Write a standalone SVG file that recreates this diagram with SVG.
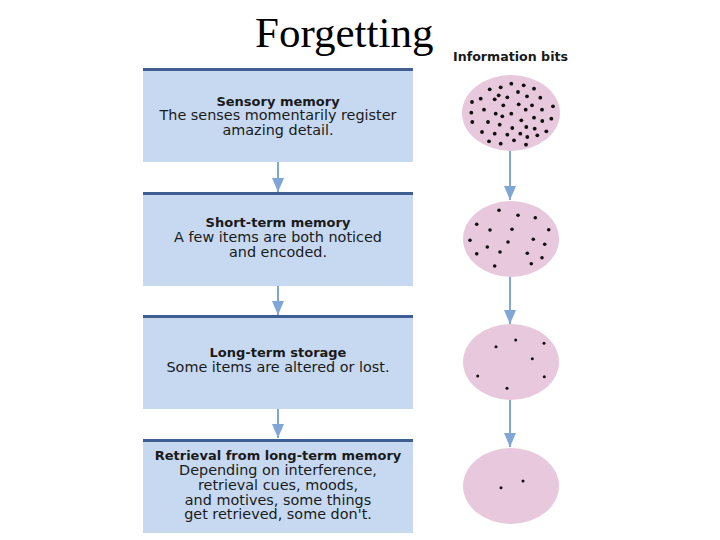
<svg xmlns="http://www.w3.org/2000/svg" width="720" height="540" viewBox="0 0 720 540">
<style>
.box{fill:#c6d9f1}
.bar{stroke:#3f5f92;stroke-width:3}
.t{font-family:"DejaVu Sans",sans-serif;font-size:14.4px;fill:#1a1a1a;text-anchor:middle}
.b{font-weight:bold;font-size:13px}
.ell{fill:#e7c8dc}
.conn{stroke:#7fa6d5;stroke-width:2;fill:none}
.dot{fill:#111}
</style>
<defs>
<marker id="ah" viewBox="0 0 14 12" refX="14" refY="6" markerWidth="14" markerHeight="12" markerUnits="userSpaceOnUse" orient="auto">
<path d="M0,0 L14,6 L0,12 Z" fill="#7fa6d5"/>
</marker>
</defs>
<rect width="720" height="540" fill="#ffffff"/>
<text x="255" y="47" font-family="'Liberation Serif',serif" font-size="43" fill="#000">Forgetting</text>
<text x="453" y="61" font-family="'DejaVu Sans',sans-serif" font-size="12" font-weight="600" fill="#1a1a1a" textLength="115" lengthAdjust="spacingAndGlyphs">Information bits</text>

<g id="n-sensory">
<rect class="box" x="143" y="70" width="270" height="92"/>
<line class="bar" x1="143" y1="69.5" x2="413" y2="69.5"/>
<text class="t b" x="278" y="105.5">Sensory memory</text>
<text class="t" x="278" y="120">The senses momentarily register</text>
<text class="t" x="278" y="134.5">amazing detail.</text>
</g>
<g id="n-short">
<rect class="box" x="143" y="194" width="270" height="92"/>
<line class="bar" x1="143" y1="193.5" x2="413" y2="193.5"/>
<text class="t b" x="278" y="227">Short-term memory</text>
<text class="t" x="278" y="242">A few items are both noticed</text>
<text class="t" x="278" y="257">and encoded.</text>
</g>
<g id="n-long">
<rect class="box" x="143" y="317" width="270" height="92"/>
<line class="bar" x1="143" y1="316.5" x2="413" y2="316.5"/>
<text class="t b" x="278" y="357">Long-term storage</text>
<text class="t" x="278" y="371.5">Some items are altered or lost.</text>
</g>
<g id="n-retrieval">
<rect class="box" x="143" y="441" width="270" height="92"/>
<line class="bar" x1="143" y1="440.5" x2="413" y2="440.5"/>
<text class="t b" x="278" y="460">Retrieval from long-term memory</text>
<text class="t" x="278" y="475">Depending on interference,</text>
<text class="t" x="278" y="490">retrieval cues, moods,</text>
<text class="t" x="278" y="504.5">and motives, some things</text>
<text class="t" x="278" y="519">get retrieved, some don't.</text>
</g>

<g id="n-bits1">
<ellipse class="ell" cx="511" cy="113" rx="49" ry="38"/>
<g class="dot">
<circle cx="511.3" cy="83.7" r="1.9"/><circle cx="523.7" cy="85.3" r="1.9"/><circle cx="500.7" cy="87.3" r="1.9"/><circle cx="489.7" cy="89.3" r="1.9"/><circle cx="534" cy="88.7" r="1.9"/>
<circle cx="518" cy="92" r="1.9"/><circle cx="498.7" cy="95.3" r="1.9"/><circle cx="507.3" cy="97.3" r="1.9"/><circle cx="527" cy="96.3" r="1.9"/><circle cx="540.3" cy="97.7" r="1.9"/>
<circle cx="480.7" cy="98.7" r="1.9"/><circle cx="494.7" cy="99.3" r="1.9"/><circle cx="472" cy="102" r="1.9"/><circle cx="518.7" cy="104.3" r="1.9"/><circle cx="532" cy="105.3" r="1.9"/>
<circle cx="553" cy="106.3" r="1.9"/><circle cx="503.3" cy="105.3" r="1.9"/><circle cx="484" cy="109.7" r="1.9"/><circle cx="525.7" cy="109.7" r="1.9"/><circle cx="542" cy="109.7" r="1.9"/>
<circle cx="471.3" cy="112.7" r="1.9"/><circle cx="495.7" cy="113.7" r="1.9"/><circle cx="511.3" cy="113.7" r="1.9"/><circle cx="534" cy="117.7" r="1.9"/><circle cx="551.3" cy="118.7" r="1.9"/>
<circle cx="502.3" cy="116.3" r="1.9"/><circle cx="472.3" cy="122" r="1.9"/><circle cx="488" cy="122" r="1.9"/><circle cx="521.3" cy="120.3" r="1.9"/><circle cx="542.3" cy="121" r="1.9"/>
<circle cx="499.7" cy="124.7" r="1.9"/><circle cx="512.3" cy="128" r="1.9"/><circle cx="526.3" cy="127" r="1.9"/><circle cx="534.7" cy="128.7" r="1.9"/><circle cx="482" cy="132" r="1.9"/>
<circle cx="494.7" cy="133.7" r="1.9"/><circle cx="507.3" cy="134.7" r="1.9"/><circle cx="520.3" cy="133.7" r="1.9"/><circle cx="546.3" cy="131.3" r="1.9"/><circle cx="527.3" cy="137" r="1.9"/>
<circle cx="537.3" cy="135.3" r="1.9"/><circle cx="489" cy="141.3" r="1.9"/><circle cx="500.7" cy="143.7" r="1.9"/><circle cx="514" cy="140.3" r="1.9"/><circle cx="526" cy="144.7" r="1.9"/>
</g>
</g>
<g id="n-bits2">
<ellipse class="ell" cx="511" cy="239" rx="48" ry="38"/>
<g class="dot">
<circle cx="499" cy="210.3" r="1.8"/><circle cx="518" cy="215.3" r="1.8"/><circle cx="535.3" cy="217.7" r="1.8"/><circle cx="476.7" cy="224.3" r="1.8"/><circle cx="490" cy="230" r="1.8"/>
<circle cx="512" cy="229.3" r="1.8"/><circle cx="548.7" cy="229.7" r="1.8"/><circle cx="470" cy="240.3" r="1.8"/><circle cx="508" cy="242" r="1.8"/><circle cx="533.3" cy="239.3" r="1.8"/>
<circle cx="544.7" cy="244.3" r="1.8"/><circle cx="487.3" cy="247" r="1.8"/><circle cx="476.7" cy="253.7" r="1.8"/><circle cx="500" cy="252" r="1.8"/><circle cx="527.3" cy="253.3" r="1.8"/>
<circle cx="542" cy="257.7" r="1.8"/><circle cx="531.3" cy="263.7" r="1.8"/><circle cx="494.7" cy="266" r="1.8"/>
</g>
</g>
<g id="n-bits3">
<ellipse class="ell" cx="511" cy="362" rx="48" ry="38"/>
<g class="dot">
<circle cx="496" cy="346.7" r="1.5"/><circle cx="515.7" cy="340" r="1.5"/><circle cx="544" cy="343.3" r="1.5"/><circle cx="532.3" cy="358.7" r="1.5"/>
<circle cx="477.7" cy="376" r="1.5"/><circle cx="544.3" cy="376.7" r="1.5"/><circle cx="507" cy="388.3" r="1.5"/>
</g>
</g>
<g id="n-bits4">
<ellipse class="ell" cx="511" cy="486" rx="48" ry="38"/>
<g class="dot">
<circle cx="523" cy="481" r="1.5"/><circle cx="501" cy="487.7" r="1.5"/>
</g>
</g>

<g id="connectors">
<line class="conn" x1="278" y1="162" x2="278" y2="192" marker-end="url(#ah)"/>
<line class="conn" x1="278" y1="286" x2="278" y2="315" marker-end="url(#ah)"/>
<line class="conn" x1="278" y1="409" x2="278" y2="438" marker-end="url(#ah)"/>
<line class="conn" x1="510" y1="151" x2="510" y2="200" marker-end="url(#ah)"/>
<line class="conn" x1="510" y1="277" x2="510" y2="324" marker-end="url(#ah)"/>
<line class="conn" x1="510" y1="400" x2="510" y2="447" marker-end="url(#ah)"/>
</g>
</svg>
